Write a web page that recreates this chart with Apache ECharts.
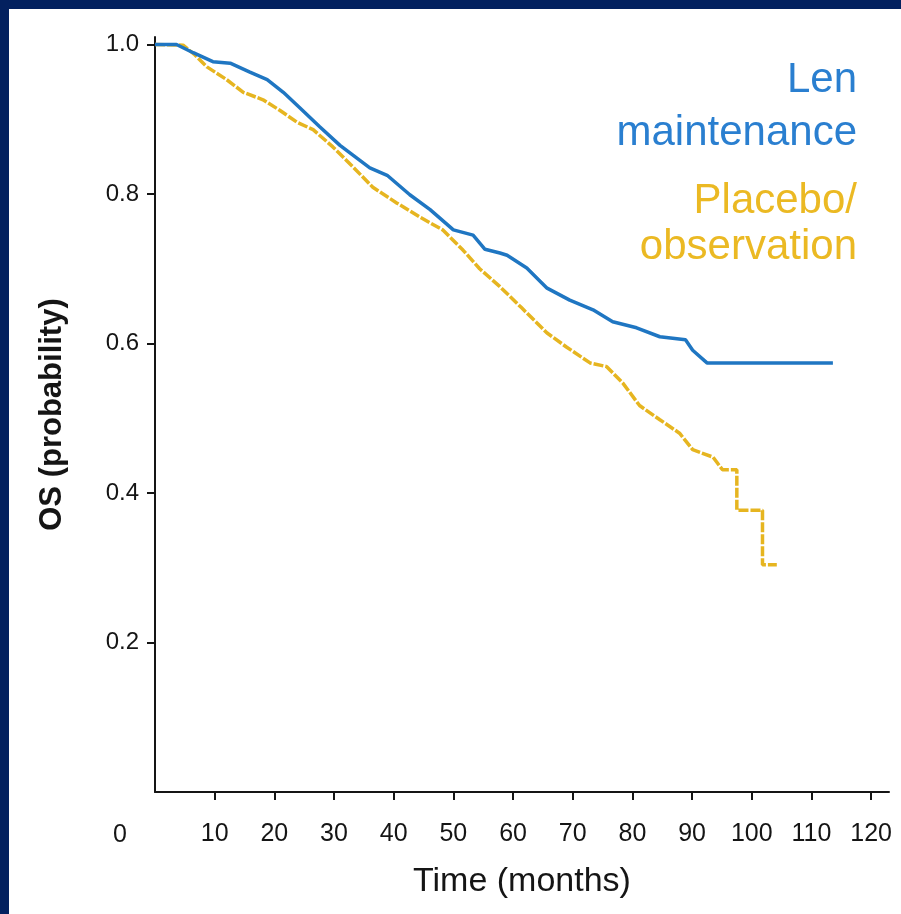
<!DOCTYPE html>
<html>
<head>
<meta charset="utf-8">
<script src="https://cdn.jsdelivr.net/npm/echarts@6/dist/echarts.min.js"></script>
<style>
html,body{margin:0;padding:0;background:#fff;}
#chart{width:901px;height:914px;}
</style>
</head>
<body>
<div id="chart"></div>
<script>
// Time (months) and OS probability
const lenTime = [0, 3.6, 6.4, 9.7, 12.6, 15.9, 18.8, 21.5, 24.3, 27.6, 31, 36, 38.9, 42.7, 46.1, 50, 53.3, 55.3, 57.8, 59, 62.3, 65.7, 69.5, 73.4, 76.7, 80.7, 84.6, 88.9, 90.1, 92.5, 113.6];
const lenSurv = [1.0, 1.0, 0.989, 0.977, 0.975, 0.963, 0.953, 0.936, 0.915, 0.89, 0.865, 0.835, 0.825, 0.799, 0.779, 0.752, 0.745, 0.726, 0.721, 0.718, 0.701, 0.674, 0.658, 0.645, 0.629, 0.621, 0.609, 0.605, 0.591, 0.574, 0.574];

const plaTime = [0, 4.7, 6.7, 8.7, 12, 14.8, 18.1, 20.9, 23.8, 26.5, 29.8, 33.2, 36.5, 40.5, 44.4, 48.2, 51.6, 54.4, 57.8, 61.4, 65.7, 69, 72.9, 75.7, 78.4, 81.2, 84.6, 87.9, 90.1, 93.5, 95.1, 97.5, 97.5, 101.8, 101.8, 104.2];
const plaSurv = [1.0, 0.999, 0.986, 0.970, 0.953, 0.936, 0.926, 0.912, 0.896, 0.886, 0.863, 0.836, 0.809, 0.788, 0.769, 0.752, 0.725, 0.700, 0.676, 0.648, 0.614, 0.595, 0.574, 0.569, 0.547, 0.517, 0.498, 0.480, 0.458, 0.448, 0.431, 0.431, 0.377, 0.377, 0.304, 0.304];

const xTicks = [10, 20, 30, 40, 50, 60, 70, 80, 90, 100, 110, 120];
const yTicks = [0.2, 0.4, 0.6, 0.8, 1.0];

const seriesNames = ['Len maintenance', 'Placebo/observation'];

const zip = (a, b) => a.map((v, i) => [v, b[i]]);

const chart = echarts.init(document.getElementById('chart'));
const axisColor = '#151515';
const font = '"Liberation Sans", Arial, sans-serif';

chart.setOption({
  animation: false,
  backgroundColor: '#ffffff',
  grid: {left: 155, right: 12, top: 37, height: 755, containLabel: false},
  xAxis: {
    type: 'value', min: 0, max: 123,
    name: 'Time (months)', nameLocation: 'middle', nameGap: 73,
    nameTextStyle: {fontFamily: font, fontSize: 34, color: axisColor},
    axisLine: {show: true, lineStyle: {color: axisColor, width: 2}},
    axisTick: {show: true, length: 8, lineStyle: {color: axisColor, width: 2}, customValues: xTicks},
    axisLabel: {fontFamily: font, fontSize: 25, color: axisColor, margin: 30, customValues: xTicks},
    splitLine: {show: false}
  },
  yAxis: {
    type: 'value', min: 0, max: 1.01,
    name: 'OS (probability)', nameLocation: 'middle', nameGap: 87, nameRotate: 90,
    nameTextStyle: {fontFamily: font, fontSize: 31, fontWeight: 'bold', color: axisColor},
    axisLine: {show: true, lineStyle: {color: axisColor, width: 2}},
    axisTick: {show: true, length: 8, lineStyle: {color: axisColor, width: 2}, customValues: yTicks},
    axisLabel: {fontFamily: font, fontSize: 24, color: axisColor, margin: 16, customValues: yTicks,
      formatter: v => v.toFixed(1)},
    splitLine: {show: false}
  },
  series: [
    {
      name: seriesNames[0], type: 'line', showSymbol: false, z: 3,
      data: zip(lenTime, lenSurv),
      lineStyle: {color: '#1f76c2', width: 3.5}
    },
    {
      name: seriesNames[1], type: 'line', showSymbol: false, z: 2,
      data: zip(plaTime, plaSurv),
      lineStyle: {color: '#e6b520', width: 3.5, type: [10, 2]}
    }
  ],
  graphic: [
    {type: 'rect', shape: {x: 0, y: 0, width: 901, height: 9}, style: {fill: '#03215f'}, silent: true},
    {type: 'rect', shape: {x: 0, y: 0, width: 9, height: 914}, style: {fill: '#03215f'}, silent: true},
    {type: 'text', x: 120, y: 835, style: {text: '0', fontFamily: font, fontSize: 25, fill: axisColor, align: 'center', verticalAlign: 'middle'}},
    {type: 'text', x: 857, y: 80, style: {text: 'Len', fontFamily: font, fontSize: 42, fill: '#2a7fd0', align: 'right', verticalAlign: 'middle'}},
    {type: 'text', x: 857, y: 133, style: {text: 'maintenance', fontFamily: font, fontSize: 42, fill: '#2a7fd0', align: 'right', verticalAlign: 'middle'}},
    {type: 'text', x: 857, y: 201, style: {text: 'Placebo/', fontFamily: font, fontSize: 42, fill: '#ebb923', align: 'right', verticalAlign: 'middle'}},
    {type: 'text', x: 857, y: 247, style: {text: 'observation', fontFamily: font, fontSize: 42, fill: '#ebb923', align: 'right', verticalAlign: 'middle'}}
  ]
});
</script>
</body>
</html>
